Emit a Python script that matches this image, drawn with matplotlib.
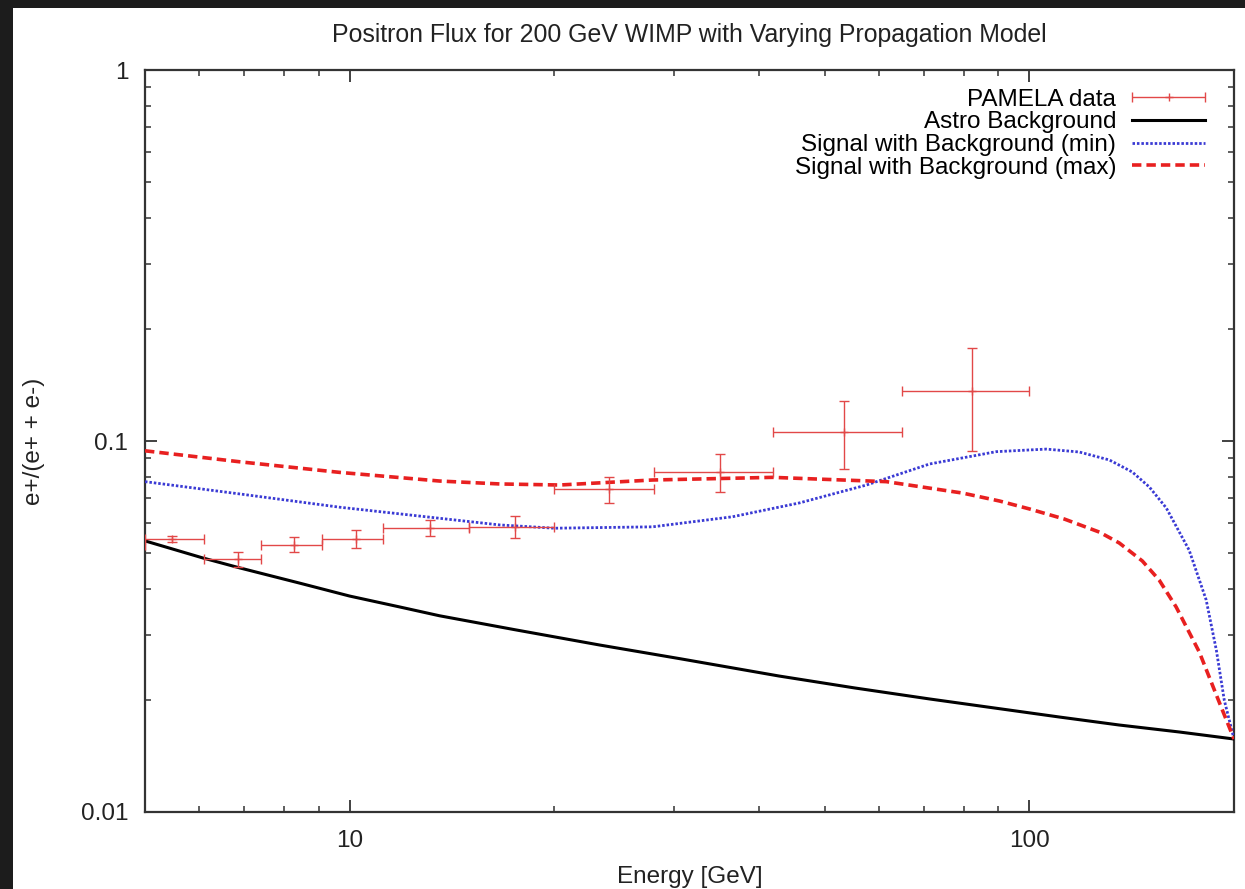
"""Positron fraction for a 200 GeV WIMP, PAMELA data vs. propagation models."""

import numpy as np
import matplotlib
matplotlib.use("Agg")
import matplotlib.pyplot as plt
from matplotlib.patches import Rectangle
from matplotlib.legend_handler import HandlerErrorbar

plt.rcParams["font.family"] = ["Liberation Sans", "DejaVu Sans"]
plt.rcParams["font.size"] = 17.5

# PAMELA positron fraction (bins in GeV)
pamela_e = [4.5, 5.47, 6.84, 8.28, 10.23, 13.15, 17.5, 24.1, 35.1, 53.4, 82.4]
pamela_lo = [4.1, 5.0, 6.1, 7.4, 9.1, 11.2, 15.0, 20.0, 28.0, 42.0, 65.0]
pamela_hi = [5.0, 6.1, 7.4, 9.1, 11.2, 15.0, 20.0, 28.0, 42.0, 65.0, 100.0]
pamela_frac = [0.0525, 0.0544, 0.0480, 0.0526, 0.0545, 0.0583, 0.0588, 0.0741, 0.0825, 0.106, 0.136]
pamela_err = [0.001, 0.001, 0.0022, 0.0024, 0.0029, 0.0029, 0.0041, 0.006, 0.0095, 0.022, 0.042]

# astrophysical background
bg_e = [5.0, 6.08, 6.89, 8.44, 10.0, 11.85, 13.56, 17.5, 23.3, 30.6, 42.8, 55.3, 71.3, 86.5,
        110.7, 135.5, 166.2, 200.0]
bg_frac = [0.0538, 0.0484, 0.0455, 0.0414, 0.0382, 0.0357, 0.0338, 0.0310, 0.0282, 0.0259,
           0.02326, 0.0216, 0.02017, 0.0192, 0.01803, 0.01716, 0.01643, 0.01573]

# signal + background, max propagation
max_e = [5.0, 6.89, 9.67, 13.56, 16.62, 20.37, 27.9, 41.9, 61.6, 79.7, 90.4, 100.0, 112.6,
         126.8, 135.6, 146.6, 155.2, 164.4, 177.8, 188.4, 194.9, 200.0]
max_frac = [0.0941, 0.0879, 0.0823, 0.0780, 0.0766, 0.0761, 0.0785, 0.0798, 0.0777, 0.0724,
            0.0689, 0.0656, 0.0616, 0.0568, 0.0531, 0.0475, 0.0422, 0.0357, 0.0270, 0.02067,
            0.0177, 0.01573]

# signal + background, min propagation
min_e = [5.0, 6.89, 9.67, 13.56, 16.62, 20.0, 27.9, 36.6, 45.9, 57.6, 71.3, 89.4, 105.9,
         118.4, 131.1, 141.7, 150.1, 159.0, 171.8, 182.0, 188.4, 193.5, 200.0]
min_frac = [0.0777, 0.0720, 0.0663, 0.0619, 0.0594, 0.0582, 0.0587, 0.0625, 0.0681, 0.0761,
            0.0867, 0.0936, 0.0951, 0.0934, 0.0889, 0.0825, 0.0752, 0.0660, 0.0508, 0.0373,
            0.0273, 0.02004, 0.01573]

fig = plt.figure(figsize=(12.45, 8.89), dpi=100)
fig.patch.set_facecolor("#1c1c1c")
# white slide area, dark frame only on the top and left edges
fig.add_artist(Rectangle((13 / 1245, 0), 1, 1 - 8 / 889, transform=fig.transFigure,
                         facecolor="white", edgecolor="none", zorder=-10))
ax = fig.add_axes([145 / 1245, 1 - 812 / 889, 1089 / 1245, 742 / 889])

err_kw = dict(fmt="+", color="#e24848", ms=6, mew=1.0, elinewidth=1.0, capsize=3.6,
              capthick=1.0)
xerr = [[e - lo for e, lo in zip(pamela_e, pamela_lo)],
        [hi - e for e, hi in zip(pamela_e, pamela_hi)]]
ax.errorbar(pamela_e, pamela_frac, xerr=xerr, yerr=pamela_err, zorder=4, **err_kw)
pamela_key = ax.errorbar([np.nan], [np.nan], xerr=[1.0], **err_kw)

bg_line, = ax.plot(bg_e, bg_frac, color="black", lw=2.2, zorder=3)
min_line, = ax.plot(min_e, min_frac, color="#3a3ad4", lw=2.0, dashes=(0.9, 0.7), zorder=3)
max_line, = ax.plot(max_e, max_frac, color="#e82020", lw=2.6, dashes=(2.6, 1.4), zorder=3)

ax.set_xscale("log")
ax.set_yscale("log")
ax.set_xlim(5, 200)
ax.set_ylim(0.01, 1)
ax.set_xticks([10, 100])
ax.set_xticklabels(["10", "100"])
ax.set_yticks([0.01, 0.1, 1])
ax.set_yticklabels(["0.01", "0.1", "1"])
ax.tick_params(which="both", direction="in", top=True, right=True, color="#333333",
               labelcolor="#222222")
ax.tick_params(which="major", length=8.5, width=1.3)
ax.tick_params(which="minor", length=4, width=1.1)
ax.tick_params(axis="y", pad=12)
ax.tick_params(axis="x", pad=13)
for spine in ax.spines.values():
    spine.set_linewidth(1.6)
    spine.set_color("#333333")

ax.set_title("Positron Flux for 200 GeV WIMP with Varying Propagation Model", pad=20,
             fontsize=17.9, color="#222222")
ax.set_xlabel("Energy [GeV]", labelpad=10, color="#222222")
ax.set_ylabel("e+/(e+ + e-)", labelpad=26, color="#222222")

ax.legend([pamela_key, bg_line, min_line, max_line],
          ["PAMELA data", "Astro Background", "Signal with Background (min)",
           "Signal with Background (max)"],
          handler_map={type(pamela_key): HandlerErrorbar(xerr_size=1.5)},
          loc="upper right", bbox_to_anchor=(0.9734, 0.9748), frameon=False,
          markerfirst=False, fontsize=17.5, handlelength=3.0, handletextpad=0.66,
          labelspacing=0.03, borderaxespad=0, borderpad=0)

fig.savefig("out.png", dpi=100, facecolor=fig.get_facecolor())
